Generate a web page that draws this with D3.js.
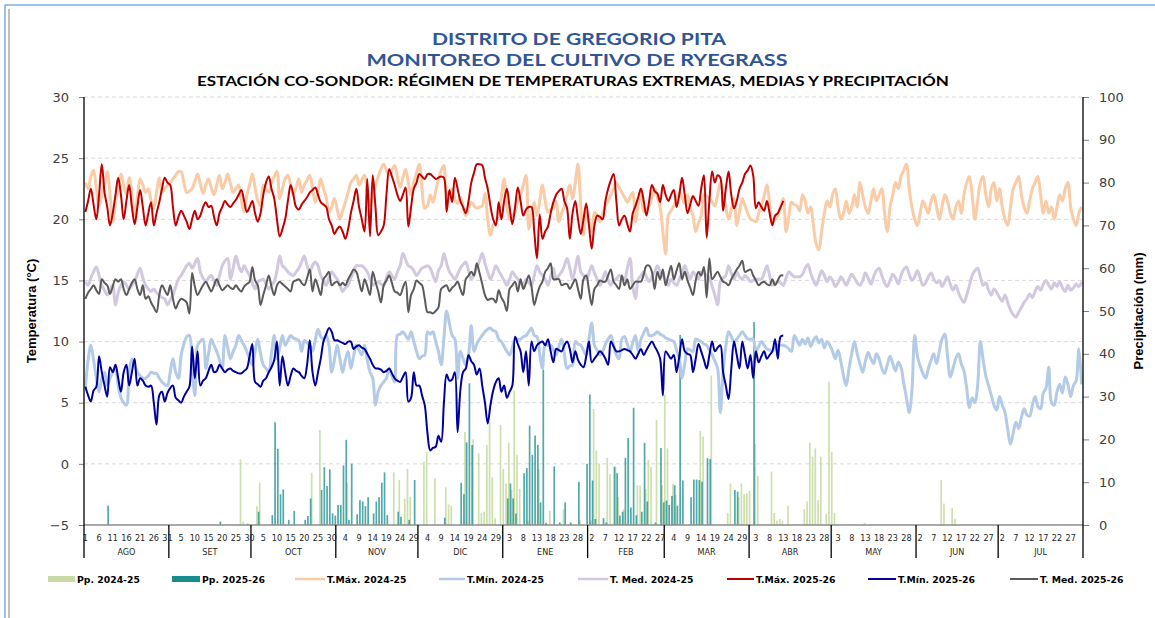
<!DOCTYPE html>
<html><head><meta charset="utf-8">
<script src="https://cdn.jsdelivr.net/npm/d3@7"></script>
<style>body{margin:0;background:#fff}svg{display:block}</style>
</head><body>
<svg id="c" width="1155" height="618"></svg>
<script>
// ---------------- DATA ----------------
const titleLines = ["DISTRITO DE GREGORIO PITA", "MONITOREO DEL CULTIVO DE RYEGRASS"];
const subtitle = "ESTACIÓN CO-SONDOR: RÉGIMEN DE TEMPERATURAS EXTREMAS, MEDIAS Y PRECIPITACIÓN";
const monthNames = ["AGO","SET","OCT","NOV","DIC","ENE","FEB","MAR","ABR","MAY","JUN","JUL"];
const tempTicks = [-5,0,5,10,15,20,25,30];
const ppTicks = [0,10,20,30,40,50,60,70,80,90,100];

// T.Máx 2024-25 (daily, 1 Aug 2024 - 31 Jul 2025)
const tmax2425 = [
23.0,22.5,23.5,24.0,22.5,21.1,22.0,22.9,23.9,22.0,19.8,21.4,22.5,23.7,22.8,22.0,23.4,22.0,20.3,21.8,
23.3,22.8,22.2,22.5,21.5,20.9,22.2,23.4,22.2,22.5,22.8,23.0,23.3,23.6,23.9,23.9,23.0,22.2,22.3,22.5,
23.1,23.7,22.9,22.1,22.8,23.3,22.6,22.0,22.8,23.6,22.5,23.0,23.7,22.9,22.2,22.5,22.8,21.5,20.6,22.0,
22.8,23.7,22.6,21.5,21.1,22.8,22.5,22.2,23.0,23.5,23.9,21.7,22.5,23.3,23.6,22.8,22.0,22.6,23.3,22.2,
22.8,23.2,23.6,22.5,21.4,22.3,23.3,22.5,21.8,20.6,21.0,21.7,20.8,20.0,20.7,21.4,22.2,23.0,23.3,23.6,
22.8,23.2,23.6,22.3,21.1,22.0,22.8,23.5,24.1,24.5,24.0,23.6,24.0,24.4,23.5,22.6,23.4,24.1,23.0,22.0,
23.0,23.8,24.5,22.5,20.9,21.1,22.0,21.4,22.3,23.3,24.0,24.4,22.0,22.2,22.5,21.6,21.3,21.8,21.0,20.3,
20.9,21.4,21.1,20.9,21.0,21.1,22.1,20.0,18.7,19.5,19.9,20.3,21.8,23.3,21.1,20.0,20.3,20.6,21.5,22.0,
22.8,23.6,19.2,20.5,21.4,20.3,21.5,22.8,21.5,20.6,20.8,20.9,21.5,19.8,20.5,21.1,22.0,22.8,21.7,23.0,
24.5,21.1,18.7,20.6,19.8,19.0,20.6,20.2,19.8,20.5,21.1,21.5,22.0,22.5,23.0,22.6,22.2,21.8,21.4,21.8,
22.2,19.8,21.2,22.5,20.6,20.8,21.1,21.8,22.5,21.8,21.0,19.0,17.2,20.3,20.7,21.1,21.6,22.2,21.8,21.3,
22.0,21.0,20.3,19.0,19.7,20.3,22.0,21.9,21.7,21.4,21.1,22.0,23.0,22.1,21.0,20.0,20.8,21.7,19.5,20.6,
21.7,21.1,20.5,20.0,19.9,19.8,20.5,21.1,21.9,22.8,21.3,19.8,20.0,20.3,21.0,21.7,19.0,20.2,21.4,21.2,
21.1,20.7,22.0,21.5,20.5,21.0,19.5,18.0,17.5,19.0,20.5,21.5,21.0,22.0,22.5,21.0,20.0,20.5,21.5,20.5,
21.0,22.0,21.0,23.0,22.0,21.0,20.5,21.5,22.5,21.5,22.0,22.5,20.5,19.0,21.0,22.0,23.0,22.5,23.5,24.0,
24.5,22.5,21.0,20.0,19.5,20.5,21.5,21.0,20.5,21.5,22.0,21.0,20.0,21.0,22.0,21.5,20.5,20.0,21.0,21.5,
20.5,22.0,23.0,23.5,22.0,20.0,21.5,23.0,23.5,22.0,21.0,22.5,23.0,21.5,22.5,21.0,20.0,19.5,21.0,22.5,
23.0,23.5,22.0,21.0,20.5,21.5,22.5,23.0,23.5,22.0,20.5,21.5,20.5,21.0,20.0,21.0,22.0,21.5,22.5,23.0,
21.0,20.0,19.5,20.5,21.0
];
// T.Mín 2024-25
const tmin2425 = [
6.2,8.5,9.7,8.5,7.0,5.9,7.0,7.5,6.4,7.0,7.5,7.8,6.4,5.4,5.0,4.8,7.5,8.6,8.0,7.5,
7.2,7.0,7.0,7.2,7.5,7.4,7.4,7.0,6.7,6.5,6.4,7.5,8.6,7.5,7.0,8.9,9.8,10.4,10.5,8.0,
5.6,9.7,10.0,10.2,7.8,9.0,10.2,9.7,9.2,8.5,7.8,10.5,9.5,8.6,9.2,9.7,10.5,10.1,9.7,9.2,
8.6,8.1,9.2,10.2,9.0,8.1,7.8,7.5,9.0,10.5,8.6,9.5,10.5,9.7,10.1,10.5,10.3,10.2,10.1,9.2,
10.1,9.9,9.7,9.2,10.1,11.0,10.4,10.2,10.5,9.7,7.5,8.5,9.7,8.6,7.5,8.5,9.2,7.8,8.8,9.7,
9.3,8.9,9.7,8.5,7.5,7.0,4.8,5.9,6.4,6.7,7.0,7.8,7.2,6.7,10.5,10.6,10.8,10.5,10.2,10.8,
10.0,9.2,8.6,8.8,8.9,10.8,10.6,10.8,10.0,9.2,8.1,10.3,12.5,11.5,10.5,10.2,7.0,9.2,8.6,8.1,
8.9,11.3,9.2,9.8,10.2,10.5,10.8,11.0,11.1,10.9,10.8,10.2,10.0,9.6,9.2,8.9,9.5,10.2,10.2,10.2,
10.4,10.5,10.8,11.1,10.5,10.4,9.0,7.8,9.7,9.7,9.7,9.3,8.9,9.6,10.2,9.0,7.8,8.0,8.1,10.0,
9.8,9.7,9.3,8.9,10.2,11.5,9.7,9.3,8.9,9.2,9.8,10.2,10.5,9.7,8.9,8.6,10.2,10.4,9.8,9.2,
9.9,10.5,9.2,10.2,10.7,11.1,10.5,10.5,10.6,10.8,10.6,10.5,10.3,10.2,10.1,10.0,9.3,8.6,7.0,8.2,
9.4,9.3,9.2,10.2,10.1,10.0,9.8,9.7,9.3,8.9,8.4,7.8,4.2,7.5,9.6,10.8,10.4,10.0,10.2,10.5,
10.8,10.5,10.2,10.2,10.2,9.2,9.6,10.0,9.7,9.4,9.3,9.2,9.5,9.7,9.7,9.7,9.6,9.4,9.2,10.5,
10.1,9.7,10.2,9.8,10.3,9.6,10.1,10.4,9.9,10.2,9.5,10.0,9.7,9.2,8.6,9.3,8.4,7.2,6.4,7.8,
9.0,10.0,9.0,8.2,7.5,8.4,9.1,8.6,8.2,9.0,8.6,7.8,7.4,8.1,8.8,8.2,7.6,8.3,7.9,6.6,
5.4,4.2,6.0,10.5,8.8,8.0,7.4,7.0,7.8,8.5,9.0,8.2,9.2,10.2,10.6,8.8,7.1,7.8,8.6,9.0,
8.2,7.6,6.2,4.6,5.4,5.0,6.4,10.0,8.5,7.2,6.4,5.6,4.8,4.4,5.5,4.8,4.2,2.8,1.6,2.5,
3.4,2.9,3.8,4.5,4.0,3.9,4.8,5.5,4.7,4.5,5.8,6.2,7.9,5.0,4.8,5.9,6.5,5.8,7.1,6.5,
5.5,6.4,6.8,9.4,6.5
];
// T. Med 2024-25
const tmed2425 = [
14.9,14.6,15.2,15.7,16.1,15.4,14.6,14.2,13.8,14.2,14.6,13.0,14.0,14.6,14.9,14.6,14.3,14.6,14.9,15.5,
16.0,15.2,14.6,14.3,14.1,14.3,14.0,13.8,13.6,13.5,13.0,13.4,13.8,14.5,15.1,15.4,15.8,16.2,16.4,16.0,
16.4,16.8,15.7,15.2,14.9,15.2,15.4,15.0,14.6,15.4,16.2,16.6,16.8,15.1,16.0,17.0,16.2,15.7,16.2,15.8,
15.4,14.8,14.3,14.9,15.0,15.1,14.7,14.3,14.6,14.9,15.8,17.0,16.2,16.0,15.7,15.5,15.4,15.7,16.0,16.5,
17.0,16.2,15.7,16.2,16.5,16.2,15.4,15.0,14.6,15.2,15.7,15.4,15.1,14.6,14.1,14.4,14.6,15.2,15.7,16.2,
16.2,16.2,16.0,15.7,15.1,14.6,14.8,14.9,14.7,14.6,15.2,15.7,15.4,15.1,15.7,16.2,17.2,16.7,16.2,16.1,
15.8,15.4,15.7,16.0,16.1,16.2,16.0,15.4,14.9,15.8,16.2,17.2,16.4,15.7,15.4,15.1,15.5,16.0,16.3,16.5,
15.8,15.1,15.5,16.0,16.6,17.2,16.4,15.7,15.1,15.6,16.2,15.8,15.4,15.0,14.6,15.1,15.7,15.4,15.1,14.8,
14.6,15.1,14.8,14.6,15.4,16.2,15.7,15.4,15.1,14.6,15.3,16.0,15.1,15.4,15.7,16.2,16.8,16.0,15.1,16.0,
17.0,15.7,15.4,15.1,15.6,16.2,15.6,15.1,14.6,15.1,15.7,15.0,14.6,15.0,15.1,15.4,15.3,15.1,16.0,16.8,
14.5,13.5,15.1,15.4,15.7,15.3,14.9,15.3,15.7,16.2,15.7,15.4,15.0,14.6,15.1,14.8,14.6,15.1,15.6,16.2,
15.6,15.1,15.7,15.4,15.1,15.7,15.6,15.4,15.2,14.5,13.8,13.0,14.9,15.2,15.4,16.2,15.6,15.1,15.7,15.3,
15.1,15.4,15.2,14.9,15.0,15.1,15.1,15.1,15.6,16.2,15.4,14.6,14.8,14.9,14.8,14.6,15.2,15.7,15.5,15.3,
15.3,15.3,15.5,16.0,16.3,15.6,15.0,14.6,15.2,15.8,15.4,14.9,15.3,15.0,14.5,14.8,15.3,15.0,14.6,15.1,
15.5,15.2,14.8,14.6,15.0,15.6,15.2,14.7,15.3,15.8,16.0,15.4,14.8,14.5,15.0,15.5,15.2,14.7,15.4,15.9,
16.1,15.5,15.0,15.3,15.8,15.2,14.6,14.8,15.3,15.6,15.1,14.8,15.0,14.5,14.9,15.3,14.7,14.2,14.6,14.0,
13.5,13.2,13.8,14.6,15.4,15.8,16.0,15.3,14.6,14.8,14.2,13.8,14.3,14.0,13.6,13.3,13.8,13.2,12.6,12.2,
12.0,12.4,12.8,13.2,13.5,13.9,13.6,14.1,14.5,14.2,14.7,15.0,14.6,14.3,14.8,14.5,14.9,14.4,14.1,14.6,
14.2,14.4,14.7,14.5,14.9
];
// T.Máx 2025-26 (1 Aug 2025 - 13 Apr 2026)
const tmax2526 = [
20.6,21.5,22.5,21.2,20.0,22.0,24.5,22.2,21.0,19.5,20.5,22.0,23.4,22.0,20.0,21.5,22.8,21.0,19.6,21.0,
22.4,21.0,19.5,20.5,21.4,19.5,20.5,21.4,22.5,23.4,23.0,22.8,21.0,19.5,20.2,20.7,20.3,19.8,19.2,20.0,
20.7,20.0,20.3,21.0,21.4,21.0,21.1,20.2,19.5,20.5,21.0,21.5,21.2,21.0,21.3,21.6,22.0,22.4,21.5,20.6,
21.0,21.5,20.5,19.8,20.5,22.0,23.0,23.5,22.5,21.7,20.0,18.6,19.2,20.0,21.5,22.8,22.0,21.0,20.8,21.2,
21.5,21.8,22.2,22.4,22.6,22.0,21.4,21.2,21.0,20.0,19.5,18.8,19.2,19.4,19.0,18.4,19.2,20.5,21.5,22.5,
21.0,20.0,19.0,23.3,18.6,23.6,21.0,18.7,19.0,19.5,22.0,24.1,23.5,22.8,22.0,21.5,22.0,22.6,19.4,21.0,
22.5,23.0,23.7,23.5,23.3,23.7,23.7,23.5,23.3,23.4,23.5,23.4,20.6,22.4,21.4,23.4,22.5,21.5,21.0,20.5,
21.5,23.0,23.8,24.5,24.5,24.4,23.4,22.5,21.1,20.0,19.5,21.4,20.0,21.5,22.5,21.0,19.6,21.0,22.6,21.5,
20.3,20.8,21.0,21.0,19.0,16.8,20.4,18.4,19.0,19.4,20.5,21.4,22.0,22.3,22.5,21.5,20.9,18.4,20.5,21.5,
20.0,18.8,20.0,21.3,19.5,17.6,19.5,20.3,20.2,20.0,21.5,22.5,23.2,23.7,21.5,19.5,20.0,20.3,19.6,19.0,
20.5,21.1,21.8,22.5,21.5,20.3,21.5,22.8,22.3,22.1,21.4,22.8,22.0,21.5,22.0,22.4,21.0,22.0,23.4,22.0,
20.5,21.2,21.9,21.5,21.1,22.5,23.6,18.5,21.5,23.9,23.0,23.6,23.4,20.7,22.5,23.9,22.0,20.9,21.5,22.5,
23.0,23.7,24.0,24.4,23.6,20.9,21.4,21.0,20.7,21.5,20.5,19.5,20.3,20.5,21.0,21.5
];
// T.Mín 2025-26
const tmin2526 = [
6.3,5.6,5.1,6.0,6.3,8.8,7.5,6.4,5.5,7.9,7.5,8.1,7.0,5.9,7.5,8.1,6.4,7.5,8.6,6.4,
7.0,6.8,6.4,6.3,6.4,5.0,3.2,5.6,5.9,5.1,5.8,6.2,6.4,5.4,5.2,5.0,5.5,5.9,6.3,9.6,
7.0,9.2,6.4,6.8,7.0,7.6,8.1,7.5,7.6,8.1,7.8,7.5,7.7,7.8,7.6,7.5,7.4,7.4,7.6,7.8,
8.8,9.8,6.7,6.5,6.3,6.8,7.0,7.5,7.9,8.5,10.0,6.4,8.8,7.5,6.4,7.2,7.8,7.6,7.5,7.2,
7.0,8.1,10.1,7.5,6.4,7.5,8.6,10.0,10.6,11.1,10.8,10.1,10.1,10.0,9.9,9.8,10.0,10.0,9.4,9.6,
9.7,9.5,9.4,9.0,8.6,8.1,7.8,7.8,7.7,7.5,7.6,7.8,7.4,7.0,6.8,6.7,7.1,7.5,5.1,5.4,
7.5,6.4,6.4,5.6,4.8,2.5,1.1,1.3,1.4,2.3,1.8,5.0,7.3,6.8,6.9,7.5,2.6,6.0,7.5,7.8,
8.9,8.4,8.1,7.3,7.8,6.4,5.0,3.3,4.8,6.0,6.7,7.0,5.9,6.4,5.4,5.9,6.4,10.4,9.8,9.2,
7.5,9.2,6.4,10.0,9.2,9.7,9.9,10.0,9.7,10.2,9.2,8.3,9.4,9.3,9.2,9.7,10.0,9.4,8.3,9.2,
8.5,8.1,7.9,8.8,10.0,8.3,8.6,8.9,9.2,9.0,8.6,8.1,10.0,9.6,9.2,9.2,9.3,9.4,9.3,9.2,
8.9,8.6,9.0,9.4,8.9,9.3,9.7,10.0,9.6,9.2,8.6,5.6,9.2,8.9,8.6,8.9,7.5,8.8,10.2,9.2,
9.0,8.9,7.5,8.6,9.8,9.2,8.5,7.8,8.9,10.0,9.2,9.5,9.7,7.5,6.4,5.3,7.8,10.0,8.9,7.8,
10.0,8.9,7.8,8.9,7.0,9.2,8.3,8.8,9.2,8.6,8.9,9.2,10.2,8.6,10.4,10.5
];
// T. Med 2025-26
const tmed2526 = [
13.5,14.0,14.3,14.6,14.2,13.9,15.1,14.8,14.6,13.9,14.5,15.1,14.9,15.1,14.3,13.8,14.3,14.8,15.1,14.3,
13.8,14.6,13.5,13.7,13.2,12.8,12.4,13.8,14.6,14.2,13.8,14.6,13.5,12.7,13.2,13.5,13.4,13.2,12.3,15.6,
14.5,13.8,14.2,14.6,14.9,14.5,14.1,14.6,15.1,14.6,14.2,14.4,14.6,14.4,14.3,14.6,14.3,14.1,14.5,14.7,
14.9,16.1,15.0,14.6,13.0,13.8,14.6,15.4,14.5,13.8,14.6,14.9,14.7,14.5,14.3,14.1,14.9,15.0,15.1,14.8,
14.6,15.2,15.9,14.1,15.1,14.5,13.8,15.1,15.4,15.7,14.6,14.8,14.9,14.6,14.8,14.6,15.1,15.5,15.9,15.7,
14.9,14.1,15.1,14.5,13.8,15.7,14.9,14.1,13.2,14.6,15.0,15.4,14.8,14.1,14.0,13.8,14.4,14.9,12.4,13.8,
14.3,15.0,14.8,14.6,13.5,12.4,12.4,12.3,12.5,12.8,14.3,14.5,14.6,14.1,14.4,14.6,14.9,14.3,13.8,15.1,
15.4,15.7,15.4,16.4,15.6,14.7,13.8,13.4,13.5,13.5,13.2,14.2,13.6,13.2,12.5,14.3,14.6,14.9,14.1,15.1,
14.3,14.8,15.4,14.5,13.0,13.8,14.5,14.9,15.7,16.0,16.4,15.1,15.1,15.1,14.6,14.7,14.7,14.3,14.7,15.1,
14.3,13.5,15.1,15.4,14.2,13.0,14.3,14.6,15.0,14.9,14.9,15.4,15.9,14.9,14.6,14.3,15.4,14.6,15.1,14.3,
14.6,14.9,14.9,14.9,15.5,16.2,16.2,15.7,14.3,15.7,15.1,15.9,14.6,15.4,16.2,15.1,15.8,16.4,15.1,15.7,
15.0,14.4,13.8,15.0,15.7,15.4,16.1,13.6,16.8,15.1,15.4,15.7,15.3,14.9,14.8,14.6,15.1,15.5,15.9,16.2,
16.6,15.7,15.8,15.9,15.4,15.0,14.6,14.8,14.9,14.7,14.6,15.1,14.6,15.0,15.4,15.4
];
// Precipitación (mm): day index (0 = 1 Aug) and amount
const pp2425Day = [57,58,63,64,83,86,96,113,115,117,118,119,124,125,128,132,133,134,139,142,144,145,146,147,148,149,150,152,153,154,155,156,157,158,159,162,166,170,175,181,185,186,187,188,191,192,194,195,197,202,203,205,206,207,209,211,212,213,215,216,225,226,229,235,236,239,240,241,242,243,245,246,251,252,253,254,255,257,263,264,265,266,267,268,269,271,272,273,274,285,313,314,317,318];
const pp2425Val = [15.3,0.8,4.4,9.9,12.2,22.2,9.9,12.3,10.5,6.1,13.1,6.6,14.8,17.1,10.9,8.8,4.8,4.5,21.7,20.0,16.7,2.7,3.1,18.7,24.1,11.1,1.6,23.4,13.1,9.7,19.2,8.2,31.4,16.4,8.4,1.0,13.1,3.3,3.7,1.0,1.0,27.1,17.4,14.3,15.7,11.9,13.6,6.5,3.7,9.3,9.2,8.4,15.2,13.5,24.5,9.3,30.5,17.9,9.6,7.0,22.0,20.7,34.9,2.8,9.7,6.6,9.7,7.2,7.4,8.0,18.9,11.5,12.5,2.8,1.0,1.4,1.0,4.5,3.7,5.5,19.2,16.0,17.9,5.8,16.0,2.6,33.5,17.1,2.8,0.5,10.5,5.0,4.0,1.5];
const pp2526Day = [8,49,59,63,68,69,70,71,72,74,76,80,81,82,86,87,88,89,90,91,92,93,94,95,96,97,99,100,101,102,103,105,106,107,108,109,110,114,115,118,120,131,137,138,139,140,141,154,155,156,157,160,161,162,163,164,165,166,167,168,171,173,175,177,180,183,184,185,186,189,190,193,194,195,196,197,198,199,200,201,203,204,205,208,210,211,212,213,214,215,216,217,218,221,222,223,224,225,227,228,237,238,244];
const pp2526Val = [4.5,0.8,0.3,3.1,2.3,24.0,17.8,7.2,8.3,1.2,3.3,1.2,2.1,6.2,8.2,13.5,9.1,13.0,2.7,2.2,4.7,4.7,13.9,19.9,1.2,14.3,2.5,5.8,5.5,4.4,6.5,2.7,5.5,6.5,9.9,12.3,2.3,3.1,1.9,1.2,10.5,1.7,9.9,7.2,19.3,33.1,18.7,6.2,9.7,6.2,2.7,12.1,13.3,23.2,16.4,20.9,18.7,5.3,36.3,0.5,13.7,0.6,5.3,0.6,10.1,14.3,30.5,10.4,1.4,1.6,0.6,13.6,12.1,2.2,3.1,15.7,20.3,4.1,27.4,2.3,3.1,19.2,5.5,0.6,18.0,5.3,5.7,4.7,6.8,9.3,4.5,44.4,10.4,6.5,10.6,10.6,10.5,10.1,15.6,15.4,8.2,7.8,47.4];

const legendLabels = ["Pp. 2024-25","Pp. 2025-26","T.Máx. 2024-25","T.Mín. 2024-25","T. Med. 2024-25","T.Máx. 2025-26","T.Mín. 2025-26","T. Med. 2025-26"];

// ---------------- STYLE ----------------
const C = {
  pp2425:"#c8dba4", pp2526:"#178c8c",
  tmax2425:"#f9cba6", tmin2425:"#b3cbe7", tmed2425:"#d2c8e0",
  tmax2526:"#c00000", tmin2526:"#00009c", tmed2526:"#5a5a5a"
};
const legendColors = [C.pp2425,C.pp2526,C.tmax2425,C.tmin2425,C.tmed2425,C.tmax2526,C.tmin2526,C.tmed2526];
const legendX = [48,172,295,439,578,727,868,1010];
const legendW = [27,28,30,26,30,27,28,28];

const svg = d3.select("#c");
const L = 84, R = 1083, T = 97, B = 525;

// frame
svg.append("rect").attr("x",5).attr("y",5).attr("width",1200).attr("height",700)
  .attr("fill","none").attr("stroke","#5b9bd5").attr("stroke-width",1.2);
svg.append("line").attr("x1",9).attr("x2",9).attr("y1",9).attr("y2",618).attr("stroke","#7f7f7f").attr("stroke-width",1);

// titles
const tf = "Lato, 'Open Sans', sans-serif";
svg.append("text").attr("x",579).attr("y",45).attr("text-anchor","middle")
  .attr("font-family",tf).attr("font-weight",700).attr("font-size",17).attr("fill","#2f5597")
  .attr("textLength",294).attr("lengthAdjust","spacingAndGlyphs").text(titleLines[0]);
svg.append("text").attr("x",577).attr("y",66).attr("text-anchor","middle")
  .attr("font-family",tf).attr("font-weight",700).attr("font-size",17).attr("fill","#2f5597")
  .attr("textLength",421).attr("lengthAdjust","spacingAndGlyphs").text(titleLines[1]);
svg.append("text").attr("x",573).attr("y",86).attr("text-anchor","middle")
  .attr("font-family",tf).attr("font-weight",700).attr("font-size",14).attr("fill","#000")
  .attr("textLength",752).attr("lengthAdjust","spacingAndGlyphs").text(subtitle);

// scales
const days = d3.timeDay.range(new Date(2024,7,1), new Date(2025,7,1));
const x = d3.scaleLinear().domain([0, days.length]).range([L, R]);
const yT = d3.scaleLinear().domain([-5, 30]).range([B, T]);
const yP = d3.scaleLinear().domain([0, 100]).range([B, T]);

// gridlines
svg.append("g").selectAll("line").data(tempTicks.filter(v=>v>-5)).join("line")
  .attr("x1",L).attr("x2",R).attr("y1",d=>yT(d)).attr("y2",d=>yT(d))
  .attr("stroke","#d9d9d9").attr("stroke-width",1).attr("stroke-dasharray","4,3");

// axes
const axL = svg.append("g").attr("transform",`translate(${L},0)`)
  .call(d3.axisLeft(yT).tickValues(tempTicks).tickSize(5).tickPadding(10));
const axR = svg.append("g").attr("transform",`translate(${R},0)`)
  .call(d3.axisRight(yP).tickValues(ppTicks).tickSize(6).tickPadding(10));
[axL,axR].forEach(a=>{
  a.select(".domain").remove();
  a.selectAll(".tick line").attr("stroke","#808080");
  a.selectAll(".tick text").attr("font-family","'DejaVu Sans', Verdana, sans-serif").attr("font-size",13).attr("fill","#404040");
});

// precipitation bars
const bw = 1.7;
svg.append("g").selectAll("rect").data(pp2425Day).join("rect")
  .attr("x",(d)=>x(d+0.5)-bw).attr("width",bw)
  .attr("y",(d,i)=>yP(pp2425Val[i])).attr("height",(d,i)=>yP(0)-yP(pp2425Val[i]))
  .attr("fill",C.pp2425).attr("opacity",0.9);
svg.append("g").selectAll("rect").data(pp2526Day).join("rect")
  .attr("x",(d)=>x(d+0.5)).attr("width",bw)
  .attr("y",(d,i)=>yP(pp2526Val[i])).attr("height",(d,i)=>yP(0)-yP(pp2526Val[i]))
  .attr("fill",C.pp2526).attr("opacity",0.75);

// lines
const line = d3.line().x((d,i)=>x(i+0.5)).y(d=>yT(d)).curve(d3.curveCatmullRom.alpha(0.5));
const series = [
  [tmax2425,C.tmax2425,3],[tmin2425,C.tmin2425,3],[tmed2425,C.tmed2425,3],
  [tmax2526,C.tmax2526,2],[tmin2526,C.tmin2526,2],[tmed2526,C.tmed2526,2]
];
series.forEach(([data,col,w])=>{
  svg.append("path").datum(data).attr("d",line).attr("fill","none")
    .attr("stroke",col).attr("stroke-width",w).attr("stroke-linejoin","round");
});

// x axis
svg.append("line").attr("x1",L).attr("x2",R).attr("y1",B).attr("y2",B).attr("stroke","#8c8c8c").attr("stroke-width",1.5);
const monthStarts = days.map((d,i)=>d.getDate()===1?i:-1).filter(i=>i>=0).concat([days.length]);
svg.append("g").selectAll("line").data(monthStarts).join("line")
  .attr("x1",d=>x(d)).attr("x2",d=>x(d)).attr("y1",T).attr("y2",558)
  .attr("stroke","#000").attr("stroke-width",d=>(d===0||d===days.length)?1.3:0)
  .filter(d=>d!==0 && d!==days.length).attr("y1",B).attr("stroke-width",1.3);
const xf = "'DejaVu Sans Condensed','DejaVu Sans',sans-serif";
svg.append("g").selectAll("text").data(days.filter((d,i)=>i%5===0)).join("text")
  .attr("x",d=>x(days.indexOf(d)+0.5)).attr("y",541).attr("text-anchor","middle")
  .attr("font-family",xf).attr("font-size",9).attr("fill","#262626").text(d=>d.getDate());
svg.append("g").selectAll("text").data(monthNames).join("text")
  .attr("x",(d,i)=>(x(monthStarts[i])+x(monthStarts[i+1]))/2).attr("y",555).attr("text-anchor","middle")
  .attr("font-family",xf).attr("font-size",9).attr("fill","#262626").text(d=>d);

// axis titles
svg.append("text").attr("transform","translate(36,311) rotate(-90)").attr("text-anchor","middle")
  .attr("font-family","'Liberation Sans Narrow','Liberation Sans',Arial,sans-serif").attr("font-weight",700).attr("font-size",13).attr("fill","#000")
  .text("Temperatura (°C)");
svg.append("text").attr("transform","translate(1143,311) rotate(-90)").attr("text-anchor","middle")
  .attr("font-family","'Liberation Sans Narrow','Liberation Sans',Arial,sans-serif").attr("font-weight",700).attr("font-size",13).attr("fill","#000")
  .text("Precipitación (mm)");

// legend
const lg = svg.append("g");
legendLabels.forEach((lab,i)=>{
  if (i<2) lg.append("rect").attr("x",legendX[i]).attr("y",576).attr("width",legendW[i]).attr("height",6).attr("fill",legendColors[i]);
  else lg.append("line").attr("x1",legendX[i]).attr("x2",legendX[i]+legendW[i]).attr("y1",579).attr("y2",579)
    .attr("stroke",legendColors[i]).attr("stroke-width",i<5?2.5:2);
  lg.append("text").attr("x",legendX[i]+legendW[i]+2).attr("y",582.5)
    .attr("font-family","'DejaVu Sans',Verdana,sans-serif").attr("font-weight",700).attr("font-size",9.3).attr("fill","#000").text(lab);
});
</script>
</body></html>
